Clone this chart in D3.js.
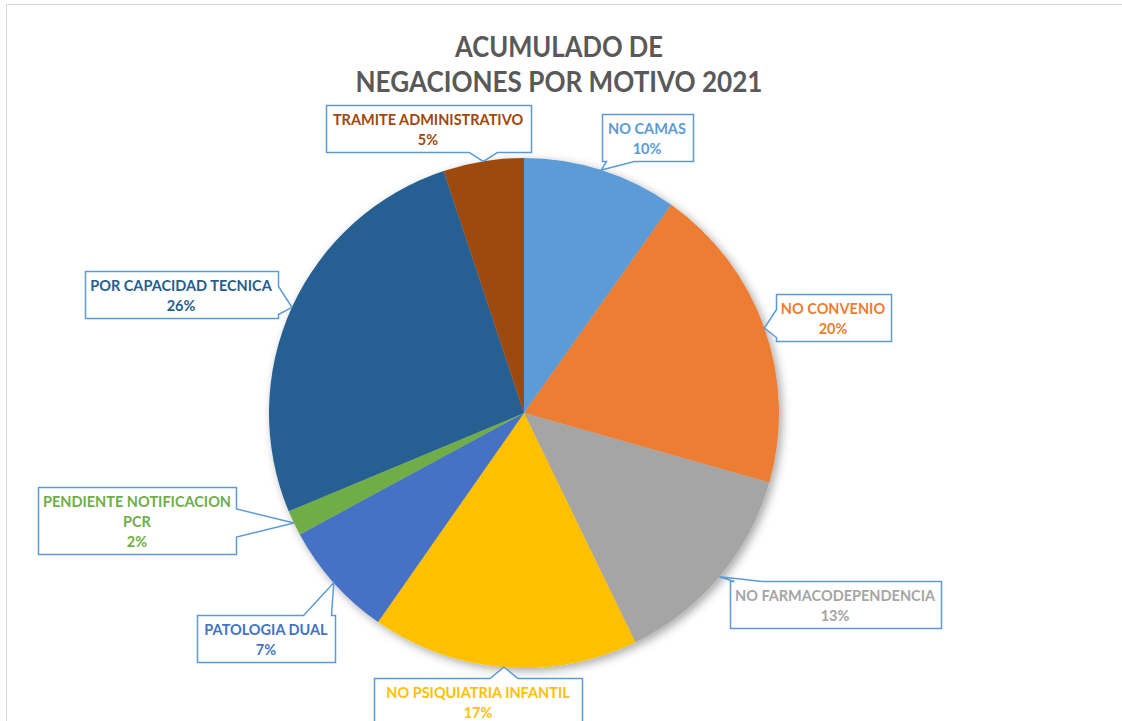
<!DOCTYPE html>
<html>
<head>
<meta charset="utf-8">
<script src="https://cdn.jsdelivr.net/npm/d3@7"></script>
<style>
  body { margin: 0; background: #fff; }
  svg { display: block; }
</style>
</head>
<body>
<div id="chart"></div>
<script>
// data (share of total, %)
var categories = ["NO CAMAS", "NO CONVENIO", "NO FARMACODEPENDENCIA", "NO PSIQUIATRIA INFANTIL",
                  "PATOLOGIA DUAL", "PENDIENTE NOTIFICACION PCR", "POR CAPACIDAD TECNICA", "TRAMITE ADMINISTRATIVO"];
var values = [9.8, 19.6, 13.4, 16.9, 7.4, 1.6, 26.2, 5.1];
var colors = ["#5B9BD5", "#ED7D31", "#A5A5A5", "#FFC000", "#4472C4", "#70AD47", "#255E91", "#9E480E"];
var titleLines = ["ACUMULADO DE", "NEGACIONES POR MOTIVO 2021"];

var W = 1122, H = 721;
var center = {x: 524, y: 413};
var R = 255;
var FONT = "Lato, 'Open Sans', sans-serif";
var LINE_H = 20;
var titleWidths = [208, 407];

// callout boxes: center and width, same order as categories
var boxes = [
  {cx: 647, cy: 137, w: 91},
  {cx: 833, cy: 317, w: 115},
  {cx: 835, cy: 604, w: 211},
  {cx: 478, cy: 701, w: 208},
  {cx: 266, cy: 638, w: 138},
  {cx: 137, cy: 520, w: 198},
  {cx: 181, cy: 294, w: 193},
  {cx: 428, cy: 128, w: 205}
];

var svg = d3.select("#chart").append("svg")
    .attr("width", W).attr("height", H);

var defs = svg.append("defs");
var f = defs.append("filter").attr("id", "shadow")
    .attr("x", "-20%").attr("y", "-20%").attr("width", "140%").attr("height", "140%");
f.append("feDropShadow").attr("dx", 3).attr("dy", 3).attr("stdDeviation", 5)
    .attr("flood-color", "#000").attr("flood-opacity", 0.35);

// chart area border
svg.append("rect")
    .attr("x", 6.5).attr("y", 4.5).attr("width", W + 20).attr("height", H + 20)
    .attr("fill", "#fff").attr("stroke", "#d9d9d9").attr("stroke-width", 1);

// title
svg.append("g").selectAll("text")
    .data(titleLines)
    .enter().append("text")
    .attr("x", 559)
    .attr("y", (d, i) => 57 + i * 35)
    .attr("text-anchor", "middle")
    .attr("font-family", FONT)
    .attr("font-weight", "bold")
    .attr("font-size", 29)
    .attr("fill", "#595959")
    .attr("textLength", (d, i) => titleWidths[i])
    .attr("lengthAdjust", "spacingAndGlyphs")
    .text(d => d);

var total = d3.sum(values);
var pie = d3.pie().sort(null).value(d => d);
var arcs = pie(values);
var arc = d3.arc().innerRadius(0).outerRadius(R);

var g = svg.append("g").attr("transform", "translate(" + center.x + "," + center.y + ")");

g.append("g").attr("filter", "url(#shadow)")
  .selectAll("path")
    .data(arcs)
    .enter().append("path")
    .attr("d", arc)
    .attr("fill", (d, i) => colors[i]);

// tip point on the rim at the middle of each slice
function tip(d) {
  var a = (d.startAngle + d.endAngle) / 2;
  return [center.x + R * Math.sin(a), center.y - R * Math.cos(a)];
}

function clamp(v, lo, hi) { return Math.max(lo, Math.min(hi, v)); }

function calloutPath(x, y, w, h, tx, ty) {
  var side;
  if (ty > y + h) side = "bottom";
  else if (ty < y) side = "top";
  else if (tx < x) side = "left";
  else side = "right";
  var hw = 14, p = [];
  var c;
  p.push([x, y]);
  if (side == "top") {
    c = clamp(tx, x + hw + 4, x + w - hw - 4);
    p.push([c - hw, y], [tx, ty], [c + hw, y]);
  }
  p.push([x + w, y]);
  if (side == "right") {
    c = clamp(ty, y + hw + 4, y + h - hw - 4);
    p.push([x + w, c - hw], [tx, ty], [x + w, c + hw]);
  }
  p.push([x + w, y + h]);
  if (side == "bottom") {
    c = clamp(tx, x + hw + 4, x + w - hw - 4);
    p.push([c + hw, y + h], [tx, ty], [c - hw, y + h]);
  }
  p.push([x, y + h]);
  if (side == "left") {
    c = clamp(ty, y + hw + 4, y + h - hw - 4);
    p.push([x, c + hw], [tx, ty], [x, c - hw]);
  }
  return "M" + p.map(q => q[0] + "," + q[1]).join("L") + "Z";
}

// split a name into lines that fit the box
var measure = svg.append("text").attr("font-family", FONT)
    .attr("font-weight", "bold").attr("font-size", 14.5).attr("visibility", "hidden");
function wrap(name, maxW) {
  var words = name.split(" "), lines = [], cur = "";
  words.forEach(function (w) {
    var test = cur ? cur + " " + w : w;
    measure.text(test);
    if (measure.node().getComputedTextLength() > maxW && cur) {
      lines.push(cur);
      cur = w;
    } else {
      cur = test;
    }
  });
  if (cur) lines.push(cur);
  return lines;
}

var labels = svg.append("g");
arcs.forEach(function (d, i) {
  var b = boxes[i];
  var lines = wrap(categories[i], b.w - 6);
  lines.push(Math.round(values[i] / total * 100) + "%");
  var h = lines.length * LINE_H + 7;
  var x = Math.round(b.cx - b.w / 2) + 0.5;
  var y = Math.round(b.cy - h / 2) + 0.5;
  var t = tip(d);

  labels.append("path")
      .attr("d", calloutPath(x, y, b.w, h, t[0], t[1]))
      .attr("fill", "#fff")
      .attr("stroke", "#5B9BD5")
      .attr("stroke-width", 1.5);

  labels.append("g").selectAll("text")
      .data(lines)
      .enter().append("text")
      .attr("x", b.cx)
      .attr("y", (s, j) => y + 19 + j * LINE_H)
      .attr("text-anchor", "middle")
      .attr("font-family", FONT)
      .attr("font-weight", "bold")
      .attr("font-size", 14.5)
      .attr("fill", colors[i])
      .text(s => s);
});
measure.remove();
</script>
</body>
</html>
